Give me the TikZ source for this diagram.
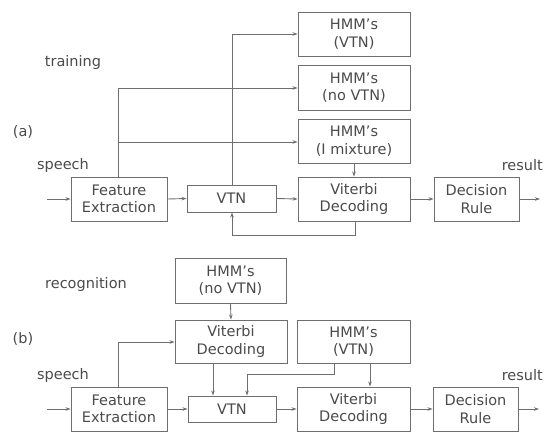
\documentclass[tikz,border=0pt]{standalone}
\usepackage{fontspec}
\setmainfont{DejaVu Sans}
\usetikzlibrary{arrows.meta}
\definecolor{ln}{HTML}{6E6E6E}
\definecolor{tx}{HTML}{4A4A4A}
\begin{document}
\begin{tikzpicture}[x=1pt,y=-1pt,
  box/.style={draw=ln,line width=0.9pt,rectangle,inner sep=0pt,align=center,text=tx,
    font=\fontsize{14.5}{17.5}\selectfont,minimum width=#1},
  box/.default=112pt,
  lbl/.style={text=tx,font=\fontsize{14.5}{17.5}\selectfont,inner sep=0pt},
  conn/.style={draw=ln,line width=0.9pt},
  arr/.style={conn,-{Stealth[length=5pt,width=3.5pt]}}]
\useasboundingbox (0,0) rectangle (544,432);
% ---------- (a) training ----------
\node[box, minimum height=44pt] (hv) at (354,34) {HMM’s\\(VTN)};
\node[box, minimum height=45pt] (hn) at (354,87.5) {HMM’s\\(no VTN)};
\node[box, minimum height=44pt] (hi) at (354,141) {HMM’s\\(I mixture)};
\node[box, minimum height=44pt] (vd) at (354,199) {Viterbi\\Decoding};
\node[box=85pt, minimum height=44pt] (dr) at (476.5,199) {Decision\\Rule};
\node[box=96pt, minimum height=44pt] (fe) at (119,199) {Feature\\Extraction};
\node[box=89pt, minimum height=27pt] (vtn) at (231.5,198.5) {VTN};
\node[lbl] (ltrain) at (73,62) {training};
\node[lbl] (la) at (23,132) {(a)};
\node[lbl] (lsa) at (63,165) {speech};
\node[lbl,anchor=east] (lra) at (543,165) {result};
\coordinate (ina) at (47,199);
\coordinate (outa) at (540,199);
\draw[arr] (ina) -- (fe.west);
\draw[arr] (fe.east) -- (vtn.west);
\draw[arr] (vtn.east) -- (vd.west);
\draw[arr] (vd.east) -- (dr.west);
\draw[arr] (dr.east) -- (outa);
\draw[arr] (fe.north -| 118,0) -- (118,88) -- (hn.west |- 0,88);
\draw[arr] (118,142) -- (hi.west |- 0,142);
\draw[arr] (vtn.north -| 232,0) -- (232,34) -- (hv.west);
\draw[arr] (hi.south) -- (vd.north);
\draw[arr] (vd.south -| 355,0) -- (355,235) -- (232,235) -- (vtn.south -| 232,0);
% ---------- (b) recognition ----------
\node[box=111pt, minimum height=45pt] (hn2) at (230.5,280.5) {HMM’s\\(no VTN)};
\node[box=112pt, minimum height=43pt] (vd1) at (231,341.5) {Viterbi\\Decoding};
\node[box=113pt, minimum height=43pt] (hv2) at (353.5,341.5) {HMM’s\\(VTN)};
\node[box=96pt, minimum height=44pt] (fe2) at (119,409) {Feature\\Extraction};
\node[box=88pt, minimum height=26pt] (vtn2) at (232,409) {VTN};
\node[box=113pt, minimum height=44pt] (vd2) at (353.5,409) {Viterbi\\Decoding};
\node[box=85pt, minimum height=44pt] (dr2) at (475.5,409) {Decision\\Rule};
\node[lbl] (lrec) at (86,284) {recognition};
\node[lbl] (lb) at (23,339) {(b)};
\node[lbl] (lsb) at (63,375) {speech};
\node[lbl,anchor=east] (lrb) at (543,375) {result};
\coordinate (inb) at (47,409);
\coordinate (outb) at (539,409);
\draw[arr] (inb) -- (fe2.west);
\draw[arr] (fe2.east) -- (vtn2.west);
\draw[arr] (vtn2.east) -- (vd2.west);
\draw[arr] (vd2.east) -- (dr2.west);
\draw[arr] (dr2.east) -- (outb);
\draw[arr] (fe2.north -| 118,0) -- (118,342) -- (vd1.west |- 0,342);
\draw[arr] (hn2.south) -- (vd1.north);
\draw[arr] (vd1.south -| 213,0) -- (vtn2.north -| 213,0);
\draw[arr] (hv2.south -| 334,0) -- (334,374) -- (247,374) -- (vtn2.north -| 247,0);
\draw[arr] (hv2.south -| 370,0) -- (vd2.north -| 370,0);
\end{tikzpicture}
\end{document}
